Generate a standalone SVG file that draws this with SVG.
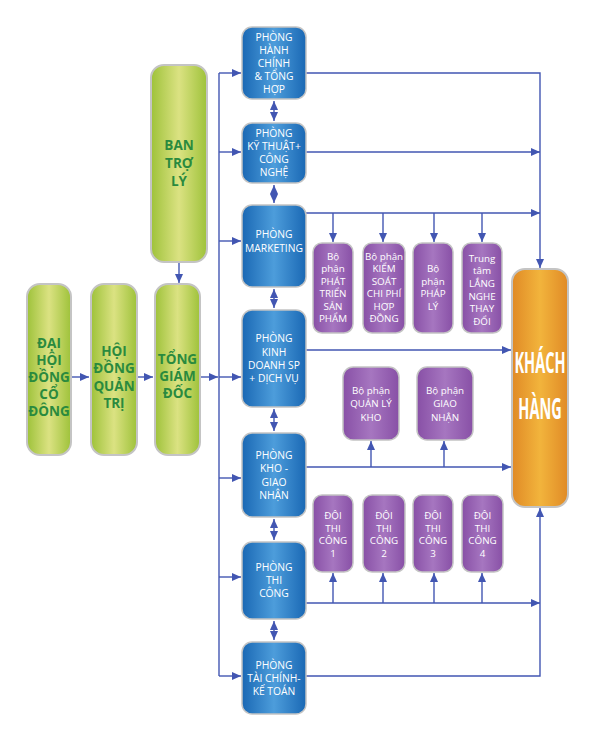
<svg xmlns="http://www.w3.org/2000/svg" width="595" height="740" viewBox="0 0 595 740">
<style>
.g{fill:url(#gg);stroke:#c4c4c4;stroke-width:2}
.b{fill:url(#gb);stroke:#c4c4c4;stroke-width:1.5}
.p{fill:url(#gp);stroke:#c4c4c4;stroke-width:1.5}
.o{fill:url(#go);stroke:#c4c4c4;stroke-width:2}
.tg{font-family:"Open Sans","Noto Sans",sans-serif;font-weight:bold;font-size:13.5px;fill:#2a8a3e;text-anchor:middle}
.tb{font-family:"Open Sans","Noto Sans",sans-serif;font-size:10.3px;fill:#ffffff;text-anchor:middle}
.tp{font-family:"Open Sans","Noto Sans",sans-serif;font-size:9.8px;fill:#ffffff;text-anchor:middle}
.to{font-family:"Open Sans","Noto Sans",sans-serif;font-weight:bold;font-size:29px;fill:#ffffff;text-anchor:middle}
.c{fill:none;stroke:#4256b2;stroke-width:1.4}
.a{marker-end:url(#ah)}
.d{marker-end:url(#ah);marker-start:url(#ah)}
</style>
<defs>
<linearGradient id="gg" x1="0" y1="0" x2="1" y2="0">
<stop offset="0" stop-color="#9ec23a"/><stop offset="0.5" stop-color="#dbe282"/><stop offset="1" stop-color="#9ec23a"/>
</linearGradient>
<linearGradient id="gb" x1="0" y1="0" x2="1" y2="0">
<stop offset="0" stop-color="#1a68b4"/><stop offset="0.5" stop-color="#4d9ddb"/><stop offset="1" stop-color="#1a68b4"/>
</linearGradient>
<linearGradient id="gp" x1="0" y1="0" x2="1" y2="0">
<stop offset="0" stop-color="#8850a6"/><stop offset="0.5" stop-color="#a676c0"/><stop offset="1" stop-color="#8850a6"/>
</linearGradient>
<linearGradient id="go" x1="0" y1="0" x2="1" y2="0">
<stop offset="0" stop-color="#e08a26"/><stop offset="0.5" stop-color="#f2b43c"/><stop offset="1" stop-color="#e08a26"/>
</linearGradient>
<marker id="ah" markerUnits="userSpaceOnUse" markerWidth="10" markerHeight="10" refX="9" refY="4" orient="auto-start-reverse" viewBox="0 0 10 8">
<path d="M0,0 L9,4 L0,8 Z" fill="#4256b2"/>
</marker>
</defs>

<g id="connectors">
<path class="c a" d="M71,377 H89"/>
<path class="c a" d="M137,377 H153"/>
<path class="c a" d="M200,377 H218"/>
<path class="c a" d="M179,262 V283"/>
<path class="c" d="M219,73 V676"/>
<path class="c a" d="M219,73 H241"/>
<path class="c a" d="M219,152 H241"/>
<path class="c a" d="M219,241 H241"/>
<path class="c a" d="M219,377 H241"/>
<path class="c a" d="M219,478 H241"/>
<path class="c a" d="M219,577 H241"/>
<path class="c a" d="M219,676 H241"/>
<path class="c d" d="M274,101 V121"/>
<path class="c d" d="M274,185 V203"/>
<path class="c d" d="M274,289 V308"/>
<path class="c d" d="M274,409 V431"/>
<path class="c d" d="M274,519 V540"/>
<path class="c d" d="M274,621 V640"/>
<path class="c a" d="M306,73 H540 V268"/>
<path class="c a" d="M306,152 H540"/>
<path class="c a" d="M306,213 H540"/>
<path class="c a" d="M333,213 V242"/>
<path class="c a" d="M383,213 V242"/>
<path class="c a" d="M434,213 V242"/>
<path class="c a" d="M482,213 V242"/>
<path class="c a" d="M306,350 H511"/>
<path class="c a" d="M306,467 H511"/>
<path class="c a" d="M371,467 V441"/>
<path class="c a" d="M444,467 V441"/>
<path class="c a" d="M306,603 H540"/>
<path class="c a" d="M333,603 V573"/>
<path class="c a" d="M383,603 V573"/>
<path class="c a" d="M434,603 V573"/>
<path class="c a" d="M482,603 V573"/>
<path class="c a" d="M306,676 H540 V508"/>
</g>

<g id="dai-hoi-dong-co-dong">
<rect class="g" x="27" y="284" width="44" height="171" rx="13"/>
<text class="tg"><tspan x="49" y="348">ĐẠI</tspan><tspan x="49" y="365">HỘI</tspan><tspan x="49" y="382">ĐỒNG</tspan><tspan x="49" y="399">CỔ</tspan><tspan x="49" y="416">ĐÔNG</tspan></text>
</g>
<g id="hoi-dong-quan-tri">
<rect class="g" x="91" y="284" width="46" height="171" rx="13"/>
<text class="tg"><tspan x="114" y="356">HỘI</tspan><tspan x="114" y="373">ĐỒNG</tspan><tspan x="114" y="391">QUẢN</tspan><tspan x="114" y="408">TRỊ</tspan></text>
</g>
<g id="tong-giam-doc">
<rect class="g" x="155" y="284" width="45" height="171" rx="13"/>
<text class="tg"><tspan x="177.5" y="364">TỔNG</tspan><tspan x="177.5" y="381">GIÁM</tspan><tspan x="177.5" y="398">ĐỐC</tspan></text>
</g>
<g id="ban-tro-ly">
<rect class="g" x="151" y="65" width="56" height="197" rx="13"/>
<text class="tg"><tspan x="179" y="150">BAN</tspan><tspan x="179" y="168">TRỢ</tspan><tspan x="179" y="186">LÝ</tspan></text>
</g>

<g id="phong-hanh-chinh">
<rect class="b" x="242" y="27" width="64" height="72" rx="10"/>
<text class="tb"><tspan x="274" y="41">PHÒNG</tspan><tspan x="274" y="54">HÀNH</tspan><tspan x="274" y="67">CHÍNH</tspan><tspan x="274" y="80">&amp; TỔNG</tspan><tspan x="274" y="93">HỢP</tspan></text>
</g>
<g id="phong-ky-thuat">
<rect class="b" x="242" y="123" width="64" height="60" rx="10"/>
<text class="tb"><tspan x="274" y="137">PHÒNG</tspan><tspan x="274" y="150">KỸ THUẬT+</tspan><tspan x="274" y="163">CÔNG</tspan><tspan x="274" y="176">NGHỆ</tspan></text>
</g>
<g id="phong-marketing">
<rect class="b" x="242" y="205" width="64" height="82" rx="10"/>
<text class="tb"><tspan x="274" y="238">PHÒNG</tspan><tspan x="274" y="252">MARKETING</tspan></text>
</g>
<g id="phong-kinh-doanh">
<rect class="b" x="242" y="310" width="64" height="97" rx="10"/>
<text class="tb"><tspan x="274" y="342">PHÒNG</tspan><tspan x="274" y="356">KINH</tspan><tspan x="274" y="369">DOANH SP</tspan><tspan x="274" y="382">+ DỊCH VỤ</tspan></text>
</g>
<g id="phong-kho-giao-nhan">
<rect class="b" x="242" y="433" width="64" height="84" rx="10"/>
<text class="tb"><tspan x="274" y="459">PHÒNG</tspan><tspan x="274" y="472">KHO -</tspan><tspan x="274" y="486">GIAO</tspan><tspan x="274" y="499">NHẬN</tspan></text>
</g>
<g id="phong-thi-cong">
<rect class="b" x="242" y="542" width="64" height="77" rx="10"/>
<text class="tb"><tspan x="274" y="571">PHÒNG</tspan><tspan x="274" y="584">THI</tspan><tspan x="274" y="597">CÔNG</tspan></text>
</g>
<g id="phong-tai-chinh">
<rect class="b" x="242" y="642" width="64" height="72" rx="10"/>
<text class="tb"><tspan x="274" y="669">PHÒNG</tspan><tspan x="274" y="682">TÀI CHÍNH-</tspan><tspan x="274" y="695">KẾ TOÁN</tspan></text>
</g>

<g id="bp-phat-trien-san-pham">
<rect class="p" x="313" y="243" width="40" height="90" rx="9"/>
<text class="tp"><tspan x="333" y="260">Bộ</tspan><tspan x="333" y="272">phận</tspan><tspan x="333" y="285">PHÁT</tspan><tspan x="333" y="297">TRIỂN</tspan><tspan x="333" y="310">SẢN</tspan><tspan x="333" y="322">PHẨM</tspan></text>
</g>
<g id="bp-kiem-soat">
<rect class="p" x="363" y="243" width="42" height="90" rx="9"/>
<text class="tp"><tspan x="384" y="260">Bộ phận</tspan><tspan x="384" y="272">KIỂM</tspan><tspan x="384" y="285">SOÁT</tspan><tspan x="384" y="297">CHI PHÍ</tspan><tspan x="384" y="310">HỢP</tspan><tspan x="384" y="322">ĐỒNG</tspan></text>
</g>
<g id="bp-phap-ly">
<rect class="p" x="413" y="243" width="40" height="90" rx="9"/>
<text class="tp"><tspan x="433" y="272">Bộ</tspan><tspan x="433" y="285">phận</tspan><tspan x="433" y="297">PHÁP</tspan><tspan x="433" y="310">LÝ</tspan></text>
</g>
<g id="trung-tam-lang-nghe">
<rect class="p" x="462" y="243" width="40" height="90" rx="9"/>
<text class="tp"><tspan x="482" y="262">Trung</tspan><tspan x="482" y="274">tâm</tspan><tspan x="482" y="287">LẮNG</tspan><tspan x="482" y="300">NGHE</tspan><tspan x="482" y="312">THAY</tspan><tspan x="482" y="325">ĐỔI</tspan></text>
</g>
<g id="bp-quan-ly-kho">
<rect class="p" x="343" y="367" width="56" height="73" rx="10"/>
<text class="tp"><tspan x="371" y="394">Bộ phận</tspan><tspan x="371" y="407">QUẢN LÝ</tspan><tspan x="371" y="421">KHO</tspan></text>
</g>
<g id="bp-giao-nhan">
<rect class="p" x="417" y="367" width="56" height="73" rx="10"/>
<text class="tp"><tspan x="445" y="394">Bộ phận</tspan><tspan x="445" y="407">GIAO</tspan><tspan x="445" y="421">NHẬN</tspan></text>
</g>
<g id="doi-thi-cong-1">
<rect class="p" x="313" y="495" width="40" height="77" rx="9"/>
<text class="tp"><tspan x="333" y="519">ĐỘI</tspan><tspan x="333" y="532">THI</tspan><tspan x="333" y="544">CÔNG</tspan><tspan x="333" y="557">1</tspan></text>
</g>
<g id="doi-thi-cong-2">
<rect class="p" x="363" y="495" width="42" height="77" rx="9"/>
<text class="tp"><tspan x="384" y="519">ĐỘI</tspan><tspan x="384" y="532">THI</tspan><tspan x="384" y="544">CÔNG</tspan><tspan x="384" y="557">2</tspan></text>
</g>
<g id="doi-thi-cong-3">
<rect class="p" x="413" y="495" width="40" height="77" rx="9"/>
<text class="tp"><tspan x="433" y="519">ĐỘI</tspan><tspan x="433" y="532">THI</tspan><tspan x="433" y="544">CÔNG</tspan><tspan x="433" y="557">3</tspan></text>
</g>
<g id="doi-thi-cong-4">
<rect class="p" x="462" y="495" width="41" height="77" rx="9"/>
<text class="tp"><tspan x="482.5" y="519">ĐỘI</tspan><tspan x="482.5" y="532">THI</tspan><tspan x="482.5" y="544">CÔNG</tspan><tspan x="482.5" y="557">4</tspan></text>
</g>

<g id="khach-hang">
<rect class="o" x="512" y="269" width="56" height="238" rx="13"/>
<text class="to" transform="translate(540,373) scale(0.5,1)" x="0" y="0">KHÁCH</text>
<text class="to" transform="translate(540,419) scale(0.5,1)" x="0" y="0">HÀNG</text>
</g>
</svg>
